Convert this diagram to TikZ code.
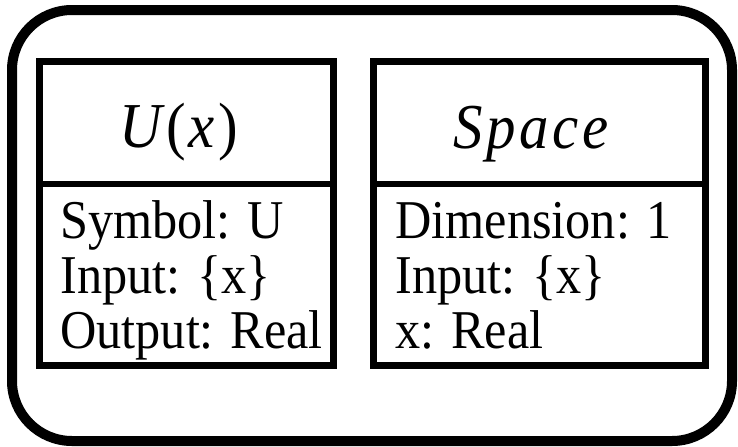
\documentclass[tikz,border=0pt]{standalone}
\usepackage{fontspec}
\setmainfont{Liberation Serif}[FakeStretch=0.92]
\newfontfamily\hdfont{Liberation Serif}[FakeStretch=0.92, LetterSpace=6]
\begin{document}
\begin{tikzpicture}[x=0.75pt,y=-0.75pt,
  outerbox/.style={draw=black, line width=7.5pt, rounded corners=45pt},
  classbox/.style={draw=black, line width=5.25pt},
  divider/.style={draw=black, line width=4.5pt},
  headtxt/.style={anchor=base, inner sep=0pt, font=\hdfont\fontsize{48}{50}\selectfont},
  bodytxt/.style={anchor=base west, inner sep=0pt, font=\fontsize{41}{41}\selectfont}]
\useasboundingbox (0,0) rectangle (738,446);
\draw[outerbox] (12,10) rectangle (732,441);
% left class box
\coordinate (lnw) at (39.5,61);
\coordinate (lse) at (333.5,365.5);
\draw[classbox] (lnw) rectangle (lse);
\coordinate (ldl) at (39.5,184);
\coordinate (ldr) at (333.5,184);
\draw[divider] (ldl) -- (ldr);
\node[headtxt] (uhead) at (179,147) {\itshape U\hspace{3pt}\upshape(\hspace{2pt}\itshape x\hspace{3pt}\upshape)};
\node[bodytxt] (u1) at (60,238) {Symbol: U};
\node[bodytxt] (u2) at (60,293) {Input: \{x\}};
\node[bodytxt] (u3) at (60,348) {Output: Real};
% right class box
\coordinate (rnw) at (373.5,61);
\coordinate (rse) at (705.5,365.5);
\draw[classbox] (rnw) rectangle (rse);
\coordinate (rdl) at (373.5,184);
\coordinate (rdr) at (705.5,184);
\draw[divider] (rdl) -- (rdr);
\node[headtxt] (shead) at (531,148) {\itshape Space};
\node[bodytxt] (s1) at (395,238) {Dimension: 1};
\node[bodytxt] (s2) at (395,293) {Input: \{x\}};
\node[bodytxt] (s3) at (395,348) {x: Real};
\end{tikzpicture}
\end{document}
